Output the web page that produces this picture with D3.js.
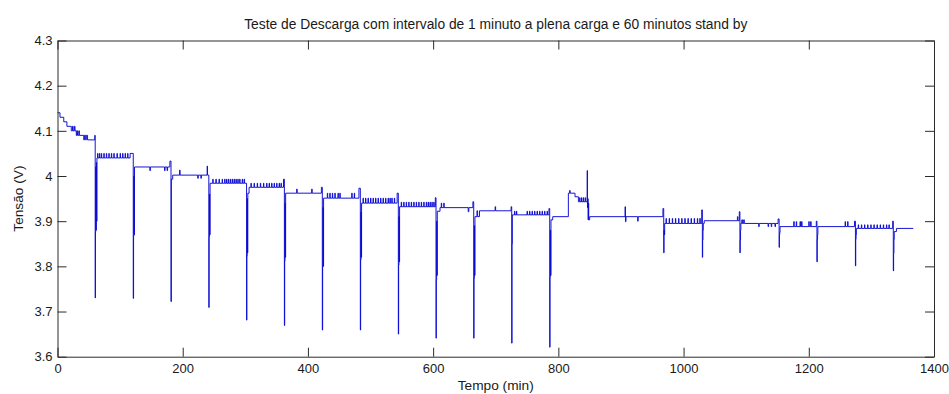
<!DOCTYPE html>
<html>
<head>
<meta charset="utf-8">
<script src="https://cdn.jsdelivr.net/npm/d3@7"></script>
<style>
  html, body { margin: 0; padding: 0; background: #fff; }
  svg { display: block; font-family: "Liberation Sans", Arial, sans-serif; }
</style>
</head>
<body>
<svg id="chart" width="949" height="394"></svg>
<script>
// Textos
const titulo = "Teste de Descarga com intervalo de 1 minuto a plena carga e 60 minutos stand by";
const rotuloX = "Tempo (min)";
const rotuloY = "Tensão (V)";

// Eixos
const xDomain = [0, 1400];
const yDomain = [3.6, 4.3];
const xTicks = [0, 200, 400, 600, 800, 1000, 1200, 1400];
const yTicks = [3.6, 3.7, 3.8, 3.9, 4.0, 4.1, 4.2, 4.3];

// Leituras [tempo (min), tensão (V)] - cada valor vale até a leitura seguinte
const leituras = [
  // repouso inicial
  [0, 4.14], [4, 4.13], [10, 4.12], [15, 4.11], [22, 4.10], [24, 4.11], [25, 4.10], [27, 4.11], [28, 4.10],
  [30, 4.09], [31, 4.10], [32, 4.09], [34, 4.10], [35, 4.09], [42, 4.08], [43, 4.09], [45, 4.08], [46, 4.09],
  [48, 4.08], [59.5, 4.09],
  // descarga 1
  [60.2, 3.73], [60.6, 3.877], [61.1, 4.02], [61.5, 3.88], [62, 4.03], [62.5, 3.9], [63, 4.04],
  [64, 4.05], [64.6, 4.04], [67, 4.05], [67.6, 4.04], [70, 4.05], [70.6, 4.04], [74, 4.05], [74.6, 4.04],
  [78, 4.05], [78.6, 4.04], [82, 4.05], [82.6, 4.04], [86, 4.05], [86.6, 4.04], [90, 4.05], [90.6, 4.04],
  [95, 4.05], [95.6, 4.04], [100, 4.05], [100.6, 4.04], [104, 4.05], [104.6, 4.04], [108, 4.05], [108.6, 4.04],
  [112, 4.05], [112.6, 4.04], [116, 4.05],
  // descarga 2
  [121, 3.729], [121.5, 3.867], [122, 4.0], [122.5, 3.87], [123, 4.02],
  [147.5, 4.012], [148.3, 4.02], [171, 4.012], [171.8, 4.02], [175, 4.012], [175.8, 4.02], [179.5, 4.033],
  // descarga 3
  [181.3, 3.722], [181.8, 3.993], [184, 4.002], [195, 4.013], [195.8, 4.002], [224, 3.995], [224.8, 4.002],
  [229, 3.995], [229.8, 4.002], [239, 4.022], [239.6, 4.002],
  // descarga 4
  [241.7, 3.709], [242.2, 3.866], [242.7, 3.96], [243.2, 3.87], [243.7, 3.984],
  [248, 3.993], [248.6, 3.984], [253, 3.993], [253.6, 3.984], [258, 3.993], [258.6, 3.984], [263, 3.993],
  [263.6, 3.984], [267, 3.993], [267.6, 3.984], [270, 3.993], [270.6, 3.984], [273, 3.993], [273.6, 3.984],
  [276, 3.993], [276.6, 3.984], [279, 3.993], [279.6, 3.984], [282, 3.993], [282.6, 3.984], [285, 3.993],
  [285.6, 3.984], [288, 3.993], [288.6, 3.984], [291, 3.993], [291.6, 3.984], [295, 3.993], [295.6, 3.984],
  [298, 3.993], [298.8, 3.984],
  // descarga 5
  [302, 3.681], [302.5, 3.823], [303, 3.95], [303.5, 3.83], [304, 3.962], [306, 3.975], [309, 3.984], [309.6, 3.975],
  [314, 3.984], [314.6, 3.975], [319, 3.984], [319.6, 3.975], [324, 3.984], [324.6, 3.975], [329, 3.984],
  [329.6, 3.975], [334, 3.984], [334.6, 3.975], [338, 3.984], [338.6, 3.975], [342, 3.984], [342.6, 3.975],
  [346, 3.984], [346.6, 3.975], [350, 3.984], [350.6, 3.975], [354, 3.984], [354.6, 3.975], [357, 3.984],
  [357.6, 3.975], [361, 3.993],
  // descarga 6
  [362.4, 3.669], [362.9, 3.812], [363.4, 3.94], [363.9, 3.82], [364.4, 3.962], [382, 3.971], [382.8, 3.962],
  [406, 3.971], [406.8, 3.962], [421.5, 3.975],
  // descarga 7
  [423, 3.659], [423.5, 3.799], [424, 3.93], [424.5, 3.80], [425, 3.951], [431, 3.962], [431.6, 3.951],
  [435, 3.962], [435.6, 3.951], [439, 3.962], [439.6, 3.951], [443, 3.962], [443.6, 3.951], [448, 3.962],
  [448.6, 3.951], [451, 3.962], [451.6, 3.951], [470, 3.962], [470.6, 3.951], [474, 3.962], [474.6, 3.951],
  [481.5, 3.973],
  // descarga 8
  [483.7, 3.659], [484.2, 3.814], [484.7, 3.92], [485.2, 3.82], [485.7, 3.940], [488, 3.951], [488.6, 3.94],
  [492, 3.951], [492.6, 3.94], [496, 3.951], [496.6, 3.94], [500, 3.951], [500.6, 3.94], [504, 3.951],
  [504.6, 3.94], [508, 3.951], [508.6, 3.94], [512, 3.951], [512.6, 3.94], [516, 3.951], [516.6, 3.94],
  [520, 3.951], [520.6, 3.94], [524, 3.951], [524.6, 3.94], [528, 3.951], [528.6, 3.94], [531, 3.951],
  [531.6, 3.94], [534, 3.951], [534.6, 3.94], [538, 3.951], [538.6, 3.94], [542.5, 3.962],
  // descarga 9
  [544.4, 3.650], [544.9, 3.803], [545.4, 3.91], [545.9, 3.81], [546.4, 3.932], [549, 3.942], [549.6, 3.932],
  [553, 3.942], [553.6, 3.932], [557, 3.942], [557.6, 3.932], [561, 3.942], [561.6, 3.932], [565, 3.942],
  [565.6, 3.932], [569, 3.942], [569.6, 3.932], [573, 3.942], [573.6, 3.932], [577, 3.942], [577.6, 3.932],
  [581, 3.942], [581.6, 3.932], [585, 3.942], [585.6, 3.932], [589, 3.942], [589.6, 3.932], [592, 3.942],
  [592.6, 3.932], [595, 3.942], [595.6, 3.932], [598, 3.942], [598.6, 3.932], [601, 3.942], [601.6, 3.932],
  [603.5, 3.952],
  // descarga 10
  [604.6, 3.641], [605.1, 3.77], [605.6, 3.90], [606.1, 3.78], [606.6, 3.922], [611, 3.930], [613, 3.94],
  [613.6, 3.930], [617, 3.94], [617.6, 3.930], [656, 3.921], [657, 3.930], [663.5, 3.943],
  // descarga 11
  [664.8, 3.641], [665.3, 3.774], [665.8, 3.89], [666.3, 3.78], [666.8, 3.91], [670, 3.923], [671, 3.91],
  [674, 3.923], [699, 3.932], [699.8, 3.923], [724.5, 3.932],
  // descarga 12
  [725.5, 3.630], [726, 3.85], [726.5, 3.914], [730, 3.922], [730.6, 3.914], [733, 3.922], [733.6, 3.914],
  [750, 3.922], [750.6, 3.914], [754, 3.922], [754.6, 3.914], [758, 3.922], [758.6, 3.914], [762, 3.922],
  [762.6, 3.914], [766, 3.922], [766.6, 3.914], [770, 3.922], [770.6, 3.914], [774, 3.922], [774.6, 3.914],
  [778, 3.922], [778.6, 3.914], [782, 3.922], [782.6, 3.914], [785, 3.928],
  // descarga 13
  [786.2, 3.621], [786.7, 3.777], [787.2, 3.88], [787.7, 3.78], [788.2, 3.903], [791, 3.910],
  // subida e pico
  [816, 3.962], [818, 3.968], [818.8, 3.962], [826.6, 3.954], [832, 3.943], [834, 3.952], [834.6, 3.943],
  [837, 3.952], [837.6, 3.943], [840, 3.952], [840.6, 3.943], [843, 3.952], [843.6, 3.943], [846, 4.012],
  [846.5, 3.93], [847, 3.95], [847.5, 3.903], [848, 3.94], [848.5, 3.903], [850, 3.910],
  [906.5, 3.932], [907.2, 3.899], [908, 3.910], [926.7, 3.90], [927.5, 3.910], [967, 3.928],
  // descarga 14
  [968.3, 3.830], [968.8, 3.88], [969.3, 3.87], [969.8, 3.895], [972, 3.906], [972.6, 3.895], [977, 3.906],
  [977.6, 3.895], [982, 3.906], [982.6, 3.895], [987, 3.906], [987.6, 3.895], [992, 3.906], [992.6, 3.895],
  [997, 3.906], [997.6, 3.895], [1002, 3.906], [1002.6, 3.895], [1007, 3.906], [1007.6, 3.895],
  [1012, 3.906], [1012.6, 3.895], [1017, 3.906], [1017.6, 3.895], [1022, 3.906], [1022.6, 3.895],
  [1026, 3.906], [1026.6, 3.895], [1029, 3.925],
  // descarga 15
  [1030, 3.820], [1030.5, 3.858], [1031, 3.88], [1031.5, 3.895], [1033, 3.901], [1086, 3.91], [1086.8, 3.901],
  [1089, 3.921],
  // descarga 16
  [1090, 3.830], [1090.5, 3.858], [1091, 3.88], [1091.5, 3.895], [1093, 3.903], [1094, 3.895], [1096, 3.903],
  [1097, 3.895], [1120, 3.888], [1120.8, 3.895], [1135, 3.888], [1135.8, 3.895], [1140, 3.888], [1140.8, 3.895],
  [1146, 3.888], [1146.8, 3.895], [1151, 3.905],
  // descarga 17
  [1152.6, 3.842], [1153.1, 3.87], [1153.6, 3.875], [1154.1, 3.888], [1176, 3.899], [1176.7, 3.888],
  [1180, 3.899], [1180.7, 3.888], [1186, 3.899], [1186.7, 3.888], [1188.5, 3.899], [1189.2, 3.888],
  [1200, 3.899], [1200.7, 3.888], [1203, 3.899], [1203.7, 3.888], [1212, 3.90],
  // descarga 18
  [1213, 3.810], [1213.5, 3.86], [1214, 3.87], [1214.5, 3.888], [1258, 3.899], [1258.7, 3.888], [1262, 3.899],
  [1262.7, 3.888], [1273, 3.90],
  // descarga 19
  [1274.5, 3.801], [1275, 3.86], [1275.5, 3.87], [1276, 3.884], [1279, 3.892], [1279.6, 3.884], [1284, 3.892],
  [1284.6, 3.884], [1289, 3.892], [1289.6, 3.884], [1294, 3.892], [1294.6, 3.884], [1299, 3.892],
  [1299.6, 3.884], [1304, 3.892], [1304.6, 3.884], [1309, 3.892], [1309.6, 3.884], [1314, 3.892],
  [1314.6, 3.884], [1319, 3.892], [1319.6, 3.884], [1324, 3.892], [1324.6, 3.884], [1328, 3.892],
  [1328.6, 3.884], [1334, 3.90],
  // descarga 20
  [1335, 3.790], [1335.5, 3.829], [1336, 3.86], [1336.5, 3.877], [1340, 3.884], [1367, 3.884]
];

const svg = d3.select("#chart");
const box = { left: 57.5, right: 934, top: 40.5, bottom: 356.7 };
const tickLen = 9;

// Escalas
const x = d3.scaleLinear().domain(xDomain).range([box.left, box.right]);
const y = d3.scaleLinear().domain(yDomain).range([box.bottom, box.top]);
const fmtX = d3.format("d");
const fmtY = (d) => String(+d.toFixed(1));

// Linha da tensão
const line = d3
  .line()
  .x((d) => x(d[0]))
  .y((d) => y(d[1]))
  .curve(d3.curveStepAfter);

svg
  .append("path")
  .datum(leituras)
  .attr("fill", "none")
  .attr("stroke", "#0a0ad2")
  .attr("stroke-width", 0.95)
  .attr("d", line);

// Eixos com marcas para dentro (estilo MATLAB)
const styleAxis = (g) => {
  g.selectAll("path, line").attr("stroke", "#2b2b2b");
  g.selectAll("text")
    .attr("fill", "#1a1a1a")
    .style("font-size", "13px")
    .style("font-family", "'Liberation Sans', Arial, sans-serif");
};

svg
  .append("g")
  .attr("transform", `translate(0,${box.bottom})`)
  .call(d3.axisBottom(x).tickValues(xTicks).tickFormat(fmtX).tickSizeInner(-tickLen).tickSizeOuter(0).tickPadding(7))
  .call(styleAxis);

svg
  .append("g")
  .attr("transform", `translate(0,${box.top})`)
  .call(d3.axisTop(x).tickValues(xTicks).tickSizeInner(-tickLen).tickSizeOuter(0).tickFormat(""))
  .call(styleAxis);

svg
  .append("g")
  .attr("transform", `translate(${box.left},0)`)
  .call(d3.axisLeft(y).tickValues(yTicks).tickFormat(fmtY).tickSizeInner(-tickLen).tickSizeOuter(0).tickPadding(5))
  .call(styleAxis);

svg
  .append("g")
  .attr("transform", `translate(${box.right},0)`)
  .call(d3.axisRight(y).tickValues(yTicks).tickSizeInner(-tickLen).tickSizeOuter(0).tickFormat(""))
  .call(styleAxis);

// Título e rótulos
svg
  .append("text")
  .attr("x", (box.left + box.right) / 2)
  .attr("y", 28.5)
  .attr("text-anchor", "middle")
  .style("font-size", "13.8px")
  .attr("fill", "#1a1a1a")
  .text(titulo);

svg
  .append("text")
  .attr("x", (box.left + box.right) / 2)
  .attr("y", 389.5)
  .attr("text-anchor", "middle")
  .style("font-size", "13.7px")
  .attr("fill", "#1a1a1a")
  .text(rotuloX);

svg
  .append("text")
  .attr("transform", `translate(23,${(box.top + box.bottom) / 2}) rotate(-90)`)
  .attr("text-anchor", "middle")
  .style("font-size", "13.7px")
  .attr("fill", "#1a1a1a")
  .text(rotuloY);
</script>
</body>
</html>
